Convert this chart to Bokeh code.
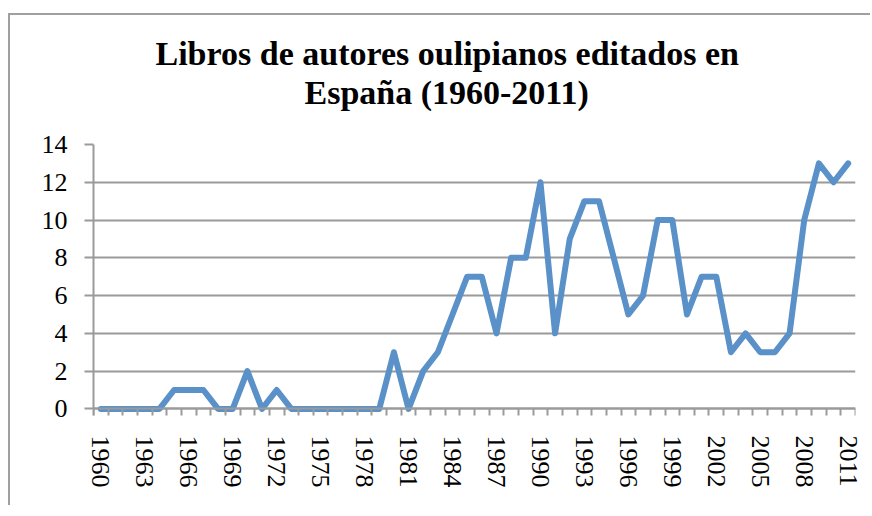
from bokeh.plotting import figure
from bokeh.models import Range1d, FixedTicker, Title, LinearAxis
from bokeh.embed import file_html
from bokeh.resources import INLINE

years = list(range(1960, 2012))
books = [0, 0, 0, 0, 0, 1, 1, 1, 0, 0,
         2, 0, 1, 0, 0, 0, 0, 0, 0, 0,
         3, 0, 2, 3, 5, 7, 7, 4, 8, 8,
         12, 4, 9, 11, 11, 8, 5, 6, 10, 10,
         5, 7, 7, 3, 4, 3, 3, 4, 10, 13,
         12, 13]
label_years = [1960, 1963, 1966, 1969, 1972, 1975, 1978, 1981, 1984,
               1987, 1990, 1993, 1996, 1999, 2002, 2005, 2008, 2011]
tick_labels = ["1960", "1963", "1966", "1969", "1972", "1975", "1978", "1981", "1984",
               "1987", "1990", "1993", "1996", "1999", "2002", "2005", "2008", "2011"]
y_ticks = [0, 2, 4, 6, 8, 10, 12, 14]
title_lines = ["Libros de autores oulipianos editados en", "España (1960-2011)"]

GREY = "#9a9a9a"
BLUE = "#5a91c8"
SERIF = "Liberation Serif"

p = figure(width=862, height=492, output_backend="svg", toolbar_location=None,
           x_range=Range1d(years[0] - 0.5, years[-1] + 0.5),
           y_range=Range1d(-0.35, 14), title=None,
           min_border_left=83, min_border_right=17, min_border_top=129, min_border_bottom=92)
p.outline_line_color = None
p.background_fill_color = "white"
p.border_fill_color = "white"
p.styles = {"box-shadow": "-2px -2px 0px 0px #a0a0a0",
            "margin-left": "10px", "margin-top": "15px"}

p.line(years, books, line_color=BLUE, line_width=6, line_join="round", line_cap="round")

# x axis line + category boundary ticks, fixed at y = 0
xa = p.xaxis[0]
xa.fixed_location = 0
xa.ticker = FixedTicker(ticks=[], minor_ticks=[y - 0.5 for y in years] + [years[-1] + 0.5])
xa.major_tick_line_color = None
xa.major_label_text_font_size = "0px"
xa.minor_tick_out = 8
xa.minor_tick_in = 0
xa.minor_tick_line_color = GREY
xa.minor_tick_line_width = 2
xa.axis_line_color = GREY
xa.axis_line_width = 2

# x tick labels
xl = LinearAxis(ticker=FixedTicker(ticks=label_years))
xl.major_label_overrides = {str(y): t for y, t in zip(label_years, tick_labels)}
xl.major_label_orientation = "vertical"
xl.axis_line_color = None
xl.major_tick_line_color = None
xl.minor_tick_line_color = None
xl.major_tick_out = 0
xl.major_tick_in = 0
xl.major_label_standoff = 20
xl.major_label_text_font = SERIF
xl.major_label_text_font_size = "26px"
xl.major_label_text_color = "black"
p.add_layout(xl, "below")

# y axis
ya = p.yaxis[0]
ya.ticker = FixedTicker(ticks=y_ticks)
ya.major_tick_out = 9
ya.major_tick_in = 0
ya.minor_tick_line_color = None
ya.major_tick_line_color = GREY
ya.major_tick_line_width = 2
ya.axis_line_color = GREY
ya.axis_line_width = 2
ya.major_label_standoff = 17
ya.major_label_text_font = SERIF
ya.major_label_text_font_size = "26px"
ya.major_label_text_color = "black"

p.xgrid.grid_line_color = None
p.ygrid.grid_line_color = GREY
p.ygrid.grid_line_width = 2

# spacer between the frame and the title
p.add_layout(Title(text=" ", text_font_size="10px", standoff=21), "above")
# title lines (second line added first: nearest to the frame)
for txt, off in zip(reversed(title_lines), [211, 62]):
    p.add_layout(Title(text=txt, align="left", offset=off, standoff=0,
                       text_font=SERIF, text_font_style="bold", text_font_size="34px",
                       text_color="black"), "above")

open("out.html", "w").write(file_html(p, INLINE))
